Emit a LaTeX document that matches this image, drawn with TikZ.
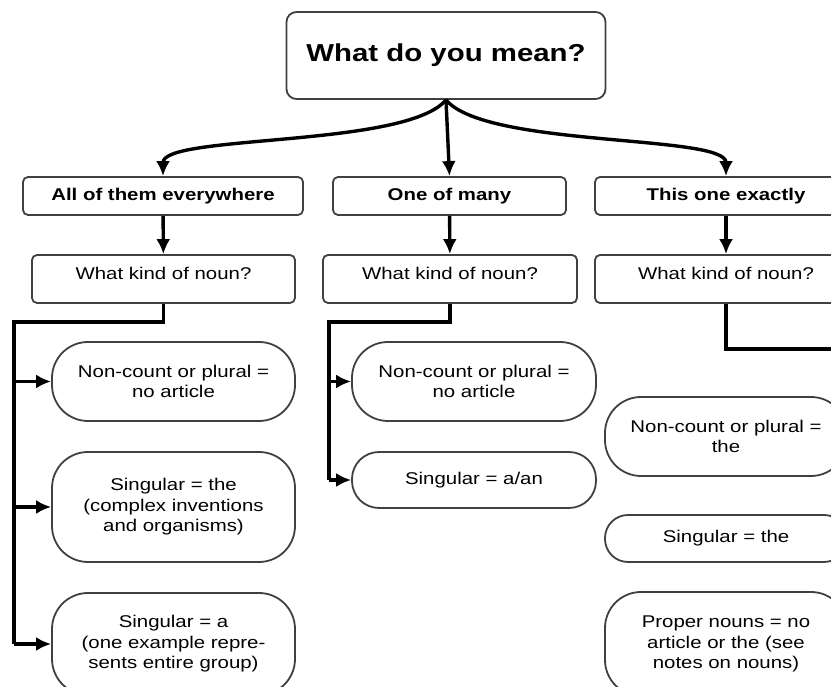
\documentclass[tikz,border=0pt]{standalone}
\usepackage{fontspec}
\setmainfont{Liberation Sans}[FakeStretch=1.2]
\usetikzlibrary{arrows.meta}

\definecolor{boxgray}{gray}{0.25}

\tikzset{
  box/.style={draw=boxgray, line width=1.8pt, rounded corners=5pt, align=center,
    inner sep=0pt, font=\fontsize{17}{20.5}\selectfont},
  choice/.style={box, minimum height=38pt, font=\bfseries\fontsize{17}{20.5}\selectfont},
  ask/.style={box, minimum height=48pt, text height=20pt, text depth=18pt},
  term/.style={box, rounded corners=#1},
  term/.default=36pt,
  link/.style={line width=3.4pt, line join=miter}
}

\begin{document}
\begin{tikzpicture}[x=1pt,y=1pt,>={Latex[length=15pt,width=14pt]}]
    \useasboundingbox (0,0) rectangle (831,687);
    \clip (0,0) rectangle (831,687);

    % Question
    \node[box, rounded corners=10pt, minimum width=319pt, minimum height=87pt,
      font=\bfseries\fontsize{24.5}{28}\selectfont] (mean) at (446,631.5) {What do you mean?};

    % Meanings
    \node[choice, minimum width=280pt] (all) at (163,491) {All of them everywhere};
    \node[choice, minimum width=233pt] (one) at (449.5,491) {One of many};
    \node[choice, minimum width=262pt] (this) at (726,491) {This one exactly};

    % Kind of noun
    \node[ask, minimum width=263pt] (kind1) at (163.5,408) {What kind of noun?};
    \node[ask, minimum width=254pt] (kind2) at (450,408) {What kind of noun?};
    \node[ask, minimum width=262pt] (kind3) at (726,408) {What kind of noun?};

    % Answers, left
    \node[term, minimum width=243pt, minimum height=79pt] (la) at (173.5,305.5)
      {Non-count or plural =\\no article};
    \node[term, minimum width=243pt, minimum height=110pt] (lb) at (173.5,180)
      {Singular = the\\(complex inventions\\and organisms)};
    \node[term, minimum width=243pt, minimum height=102pt] (lc) at (173.5,43)
      {Singular = a\\(one example repre-\\sents entire group)};

    % Answers, middle
    \node[term, minimum width=244pt, minimum height=79pt] (ma) at (474,305.5)
      {Non-count or plural =\\no article};
    \node[term=27pt, minimum width=244pt, minimum height=56pt] (mb) at (474,207)
      {Singular = a/an};

    % Answers, right
    \node[term, minimum width=242pt, minimum height=79pt] (ra) at (726,250.5)
      {Non-count or plural =\\the};
    \node[term=23pt, minimum width=242pt, minimum height=47pt] (rb) at (726,148.5)
      {Singular = the};
    \node[term, minimum width=242pt, minimum height=104pt] (rc) at (726,43)
      {Proper nouns = no\\article or the (see\\notes on nouns)};

    % Arrows from the question
    \draw[link,->] (mean.south) .. controls +(-40,-48) and +(0,42) .. (all.north);
    \draw[link,->] (mean.south) -- (one.north);
    \draw[link,->] (mean.south) .. controls +(40,-48) and +(0,42) .. (this.north);

    \draw[link,->] (all) -- (kind1);
    \draw[link,->] (one) -- (kind2);
    \draw[link,->] (this) -- (kind3);

    % Trunks
    \coordinate (bend1) at (14,365);
    \coordinate (bend2) at (329,365);
    \coordinate (bend3) at (845,338);

    \draw[link] (kind1.south) |- (bend1) -- (bend1 |- lc.west);
    \foreach \t in {la,lb,lc}
      \draw[link,->] (bend1 |- \t.west) -- (\t.west);

    \draw[link] (kind2.south) |- (bend2) -- (bend2 |- mb.west);
    \foreach \t in {ma,mb}
      \draw[link,->] (bend2 |- \t.west) -- (\t.west);

    \draw[link] (kind3.south) |- (bend3);
\end{tikzpicture}
\end{document}
